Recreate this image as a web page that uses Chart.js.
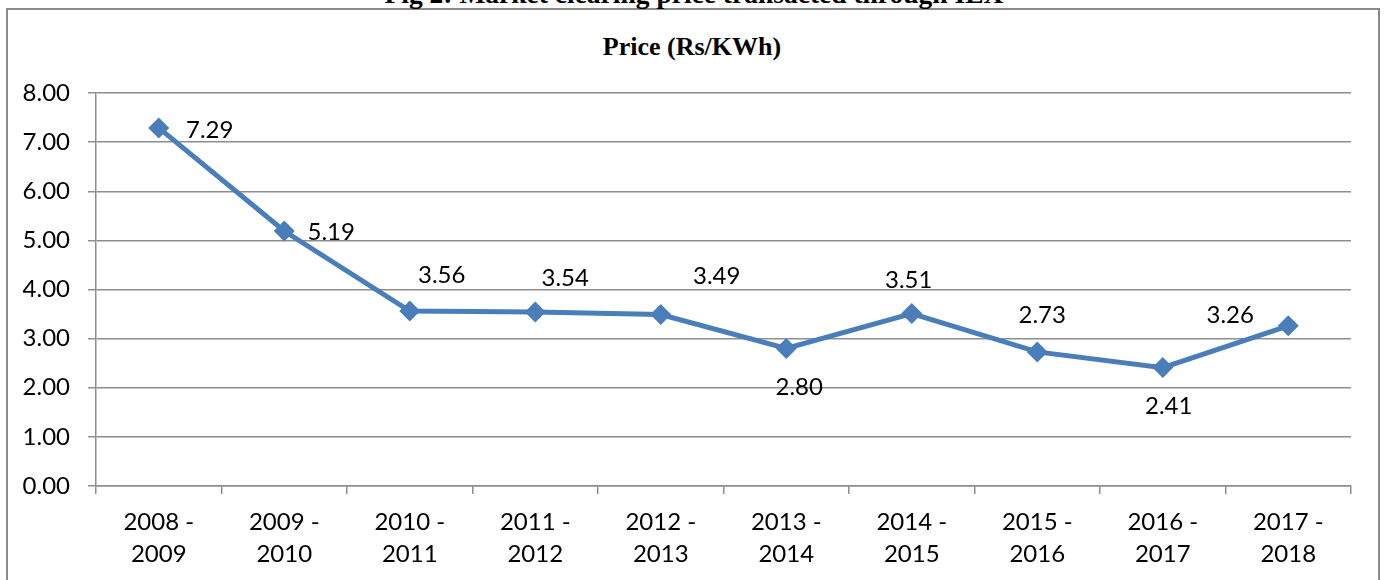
<!DOCTYPE html>
<html>
<head>
<meta charset="utf-8">
<script src="https://cdn.jsdelivr.net/npm/chart.js@4/dist/chart.umd.min.js"></script>
<style>
  body { margin: 0; background: #fff; overflow: hidden; }
  #wrap { position: relative; width: 1384px; height: 580px; overflow: hidden; }
  #frame {
    position: absolute; left: 6px; top: 8px; width: 1374px; height: 600px;
    border: 2px solid #8a8a8a; box-sizing: border-box;
  }
  #fig {
    position: absolute; left: 0; width: 1388px; top: -20px;
    text-align: center; font: bold 27.5px "Liberation Serif", serif; line-height: 27px;
    color: #000;
  }
  #ptitle {
    position: absolute; left: 0; width: 1384px; top: 32px;
    text-align: center; font: bold 26px "Liberation Serif", serif; line-height: 30px;
    color: #000;
  }
  #price-chart { position: absolute; left: 0; top: 0; }
</style>
</head>
<body>
<div id="wrap">
  <div id="frame"></div>
  <div id="fig">Fig 2: Market clearing price transacted through IEX</div>
  <div id="ptitle">Price (Rs/KWh)</div>
  <canvas id="price-chart" width="1384" height="580"></canvas>
</div>
<script>
const years = [
  ["2008 -", "2009"], ["2009 -", "2010"], ["2010 -", "2011"], ["2011 -", "2012"],
  ["2012 -", "2013"], ["2013 -", "2014"], ["2014 -", "2015"], ["2015 -", "2016"],
  ["2016 -", "2017"], ["2017 -", "2018"],
];
const prices = [7.29, 5.19, 3.56, 3.54, 3.49, 2.8, 3.51, 2.73, 2.41, 3.26];

// where each value label sits relative to its marker (px)
const labelOffsets = [
  [51, 2], [47, 1], [32, -36], [30, -34], [56, -38],
  [13, 39], [-3, -33], [5, -37], [6, 39], [-58, -11],
];

const lineBlue = "#4a7ebb";
const gridGray = "#8e8e8e";

const valueLabels = {
  id: "valueLabels",
  afterDatasetsDraw(chart) {
    const c = chart.ctx;
    const meta = chart.getDatasetMeta(0);
    c.save();
    c.font = "24px Lato";
    c.fillStyle = "#000";
    c.textAlign = "center";
    c.textBaseline = "middle";
    meta.data.forEach((pt, i) => {
      c.fillText(prices[i].toFixed(2), pt.x + labelOffsets[i][0], pt.y + labelOffsets[i][1]);
    });
    c.restore();
  },
};

const ctx = document.getElementById("price-chart").getContext("2d");
new Chart(ctx, {
  type: "line",
  data: {
    labels: years,
    datasets: [
      {
        label: "Price (Rs/KWh)",
        data: prices,
        borderColor: lineBlue,
        borderWidth: 5,
        tension: 0,
        pointStyle: "rectRot",
        pointRadius: 10.5,
        pointBackgroundColor: lineBlue,
        pointBorderColor: lineBlue,
        pointBorderWidth: 0,
        fill: false,
      },
    ],
  },
  options: {
    responsive: false,
    animation: false,
    layout: { padding: { left: 0, right: 33, top: 93, bottom: 0 } },
    plugins: {
      legend: { display: false },
      tooltip: { enabled: false },
      title: { display: false },
    },
    scales: {
      y: {
        min: 0,
        max: 8,
        afterFit(scale) { scale.width = 96; },
        border: { display: true, color: gridGray, width: 1.5 },
        grid: { color: gridGray, lineWidth: 1.5, tickLength: 8, drawTicks: true },
        ticks: {
          stepSize: 1,
          padding: 18,
          color: "#000",
          font: { family: "Lato", size: 24 },
          callback: (v) => v.toFixed(2),
        },
      },
      x: {
        offset: true,
        afterFit(scale) { scale.height = 94; },
        border: { display: true, color: gridGray, width: 1.5 },
        grid: {
          offset: true,
          drawOnChartArea: false,
          drawTicks: true,
          tickLength: 8,
          color: gridGray,
          lineWidth: 1.5,
        },
        ticks: {
          padding: 12,
          maxRotation: 0,
          color: "#000",
          font: { family: "Lato", size: 24, lineHeight: 1.33 },
        },
      },
    },
  },
  plugins: [valueLabels],
});
</script>
</body>
</html>
